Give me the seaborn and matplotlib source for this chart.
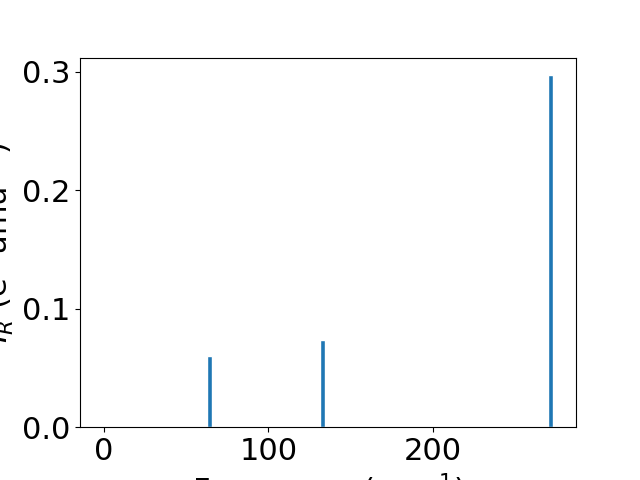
import numpy as np
import pandas as pd
import matplotlib
matplotlib.use("Agg")
import matplotlib.pyplot as plt
import seaborn as sns

# Raman/IR-like intensities for the three modes
freqs = [64.4, 133.0, 271.7]
intensities = [0.060, 0.0735, 0.297]

sns.set_style("ticks")
plt.rcParams['font.family'] = ['DejaVu Sans']
plt.rcParams['font.size'] = 22
plt.rcParams['text.color'] = 'black'
plt.rcParams['axes.labelcolor'] = 'black'
plt.rcParams['xtick.color'] = 'black'
plt.rcParams['ytick.color'] = 'black'

df = pd.DataFrame({"freq": freqs, "inten": intensities})

fig, ax = plt.subplots(figsize=(6.4, 4.8), dpi=100)
sns.barplot(data=df, x="freq", y="inten", native_scale=True,
            color="#1f77b4", saturation=1, width=3.0 / 68.6, ax=ax)
ax.set_xlim(-14.6, 287)
ax.set_ylim(0, 0.3119)
ax.set_xticks([0, 100, 200])
ax.set_yticks([0.0, 0.1, 0.2, 0.3])
ax.set_xlabel("Frequency (cm$^{-1}$)", color="black")
ax.set_ylabel("$I_R$ (e$^2$ amu$^{-1}$)", color="black")
for s in ax.spines.values():
    s.set_visible(True)
    s.set_color("black")
    s.set_linewidth(0.8)
ax.tick_params(labelsize=22, length=3.5, width=0.8, color="black",
               labelcolor="black")

plt.savefig("out.png", dpi=100)
